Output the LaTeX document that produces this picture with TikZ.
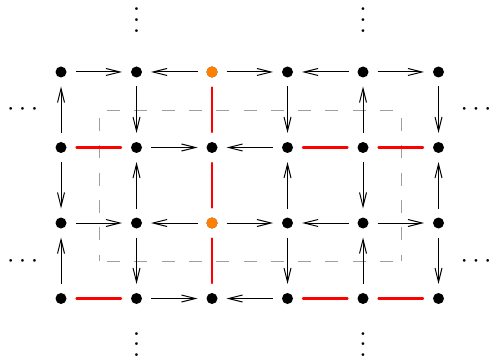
\documentclass[tikz,border=0pt]{standalone}
\usetikzlibrary{arrows.meta}
\definecolor{dotorange}{RGB}{255,128,0}
% vertical dots without the extra space above them
\newcommand\stackdots{\vbox{\baselineskip4pt\lineskiplimit0pt\hbox{.}\hbox{.}\hbox{.}}}
\begin{document}
\begin{tikzpicture}[x=1pt,y=1pt,
  dotnode/.style={circle, fill=black, draw=none, inner sep=0pt, minimum size=11pt, outer sep=9pt},
  freenode/.style={dotnode, fill=dotorange},
  arr/.style={-{Straight Barb[length=14pt,width=7pt,line width=1pt]}, line width=1pt},
  matched/.style={red, line width=2.3pt, line cap=round, shorten <=1pt, shorten >=1pt},
  region/.style={gray!75, line width=0.9pt, dash pattern=on 13pt off 14.3pt},
  ellip/.style={scale=2.654, transform shape, inner sep=0pt, anchor=base}]
\useasboundingbox (0,0) rectangle (492,-358);

% dashed region
\coordinate (r-tl) at (99,-110);
\coordinate (r-tr) at (401,-110);
\coordinate (r-br) at (401,-261);
\coordinate (r-bl) at (99,-261);
\draw[region, dash phase=19.3pt] (r-tl) -- (r-tr);
\draw[region, dash phase=19.3pt] (r-bl) -- (r-br);
\draw[region, dash phase=19.3pt] (r-tl) -- (r-bl);
\draw[region, dash phase=19.3pt] (r-tr) -- (r-br);

% vertices of the grid
\foreach \i in {1,...,6}{
  \foreach \j in {1,...,4}{
    \node[dotnode] (n-\i-\j) at ({61+75.5*(\i-1)},{-72-75.5*(\j-1)}) {};
  }
}
\node[freenode] at (n-3-1) {};
\node[freenode] at (n-3-3) {};

% horizontal arrows
\foreach \a/\b/\r in {1/2/1,3/2/1,3/4/1,5/4/1,5/6/1,
                      2/3/2,4/3/2,
                      1/2/3,3/2/3,3/4/3,5/4/3,5/6/3,
                      2/3/4,4/3/4}
  \draw[arr] (n-\a-\r) -- (n-\b-\r);

% vertical arrows
\foreach \c/\a/\b in {1/2/1,2/1/2,4/1/2,5/2/1,6/1/2,
                      1/2/3,2/3/2,4/3/2,5/2/3,6/3/2,
                      1/4/3,2/3/4,4/3/4,5/4/3,6/3/4}
  \draw[arr] (n-\c-\a) -- (n-\c-\b);

% matched edges
\foreach \a/\b/\r in {1/2/2,4/5/2,5/6/2,1/2/4,4/5/4,5/6/4}
  \draw[matched] (n-\a-\r) -- (n-\b-\r);
\foreach \a/\b in {1/2,2/3,3/4}
  \draw[matched] (n-3-\a) -- (n-3-\b);

% continuation marks
\node[ellip] (vd-t2) at (136.5,-32.1) {\stackdots};
\node[ellip] (vd-t5) at (363,-32.1) {\stackdots};
\node[ellip] (vd-b2) at (136.5,-356.4) {\stackdots};
\node[ellip] (vd-b5) at (363,-356.4) {\stackdots};
\node[ellip] (cd-l1) at (22.7,-115.9) {$\cdots$};
\node[ellip] (cd-l2) at (22.7,-267.3) {$\cdots$};
\node[ellip] (cd-r1) at (476,-115.9) {$\cdots$};
\node[ellip] (cd-r2) at (476,-267.3) {$\cdots$};
\end{tikzpicture}
\end{document}
